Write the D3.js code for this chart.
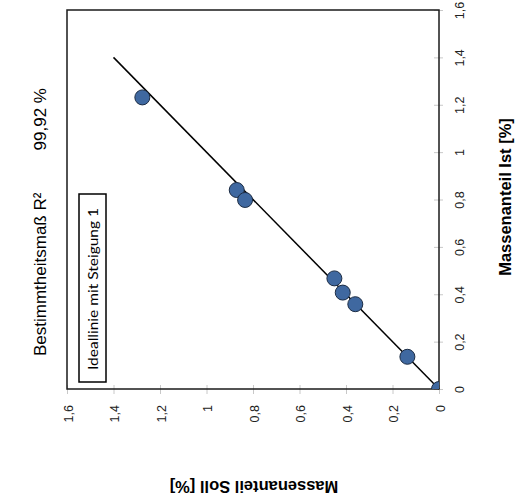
<!DOCTYPE html>
<html>
<head>
<meta charset="utf-8">
<script src="https://cdn.jsdelivr.net/npm/d3@7"></script>
<style>
  body { margin: 0; background: #fff; }
  svg { display: block; }
</style>
</head>
<body>
<svg></svg>
<script>
// Data
const sollValues = [1.276, 0.870, 0.834, 0.450, 0.414, 0.360, 0.136, 0.0]
const istValues  = [1.231, 0.840, 0.798, 0.467, 0.407, 0.358, 0.136, 0.0]
const tickValues = [0, 0.2, 0.4, 0.6, 0.8, 1, 1.2, 1.4, 1.6]
const idealLine  = [[0, 0], [1.4, 1.4]]
const titleText  = 'Bestimmtheitsmaß R²'
const titleValue = '99,92 %'
const legendText = 'Ideallinie mit Steigung 1'
const xTitle = 'Massenanteil Soll [%]'
const yTitle = 'Massenanteil Ist [%]'

const width = 520
const height = 500
const plot = {left: 67, right: 439, top: 10, bottom: 389}

const svg = d3.select('svg')
    .attr('width', width)
    .attr('height', height)

const fmt = (d) => String(d).replace('.', ',')

// chart is drawn rotated: Soll runs right to left along the bottom, Ist upward on the right
const xScale = d3.scaleLinear()
    .domain([0, 1.6])
    .range([plot.right, plot.left])
const yScale = d3.scaleLinear()
    .domain([0, 1.6])
    .range([plot.bottom, plot.top])

svg.append('clipPath')
    .attr('id', 'clip')
    .append('rect')
    .attr('x', plot.left)
    .attr('y', plot.top)
    .attr('width', plot.right - plot.left)
    .attr('height', plot.bottom - plot.top)

// axes
const xAxis = svg.append('g')
    .attr('transform', 'translate(0,' + plot.bottom + ')')
    .call(d3.axisBottom(xScale).tickValues(tickValues).tickFormat(fmt).tickSize(4))
xAxis.select('.domain').remove()
xAxis.selectAll('.tick line').attr('y1', -4).attr('y2', 5).attr('stroke', '#c8c8c8')
xAxis.selectAll('.tick text')
    .attr('transform', 'rotate(-90)')
    .attr('x', -16)
    .attr('y', 0)
    .attr('dy', '0.4em')
    .attr('text-anchor', 'end')
    .attr('fill', '#222')
    .style('font', '12.5px "Liberation Sans", Arial, sans-serif')

const yAxis = svg.append('g')
    .attr('transform', 'translate(' + plot.right + ',0)')
    .call(d3.axisRight(yScale).tickValues(tickValues).tickFormat(fmt).tickSize(4))
yAxis.select('.domain').remove()
yAxis.selectAll('.tick line').attr('x1', -5).attr('x2', 4).attr('stroke', '#c8c8c8')
yAxis.selectAll('.tick text')
    .attr('transform', 'rotate(-90)')
    .attr('x', 0)
    .attr('y', 21)
    .attr('dy', '0.35em')
    .attr('text-anchor', 'middle')
    .attr('fill', '#222')
    .style('font', '12.5px "Liberation Sans", Arial, sans-serif')

// plot frame
svg.append('rect')
    .attr('x', plot.left)
    .attr('y', plot.top)
    .attr('width', plot.right - plot.left)
    .attr('height', plot.bottom - plot.top)
    .attr('fill', 'none')
    .attr('stroke', '#1a1a1a')
    .attr('stroke-width', 1.5)

// ideal line
svg.append('path')
    .datum(idealLine)
    .attr('d', d3.line().x((d) => xScale(d[0])).y((d) => yScale(d[1])))
    .attr('fill', 'none')
    .attr('stroke', '#000')
    .attr('stroke-width', 1.5)

// points
svg.append('g')
    .attr('clip-path', 'url(#clip)')
    .selectAll('circle')
    .data(sollValues)
    .enter()
    .append('circle')
    .attr('cx', (d) => xScale(d))
    .attr('cy', (d, i) => yScale(istValues[i]))
    .attr('r', 7.5)
    .attr('fill', '#3f68a0')
    .attr('stroke', '#1c2c44')
    .attr('stroke-width', 1)

// legend box
svg.append('rect')
    .attr('x', 79)
    .attr('y', 194)
    .attr('width', 27)
    .attr('height', 188)
    .attr('fill', '#fff')
    .attr('stroke', '#000')
    .attr('stroke-width', 1.5)
svg.append('text')
    .attr('transform', 'translate(93,289) rotate(-90)')
    .attr('text-anchor', 'middle')
    .attr('dy', '0.35em')
    .attr('textLength', 162)
    .attr('lengthAdjust', 'spacingAndGlyphs')
    .style('font', '14px Lato, sans-serif')
    .text(legendText)

// title
svg.append('text')
    .attr('transform', 'translate(40,356) rotate(-90)')
    .attr('dy', '0.35em')
    .style('font', '17px "Liberation Sans", Arial, sans-serif')
    .text(titleText)
svg.append('text')
    .attr('transform', 'translate(40,88) rotate(-90)')
    .attr('text-anchor', 'end')
    .attr('dy', '0.35em')
    .style('font', '17px "Liberation Sans", Arial, sans-serif')
    .text(titleValue)

// axis titles
svg.append('text')
    .attr('transform', 'translate(505,197) rotate(-90)')
    .attr('text-anchor', 'middle')
    .attr('dy', '0.35em')
    .style('font', 'bold 16.5px "Liberation Sans", Arial, sans-serif')
    .text(yTitle)
svg.append('text')
    .attr('transform', 'translate(254,487) rotate(180)')
    .attr('text-anchor', 'middle')
    .attr('dy', '0.35em')
    .style('font', 'bold 16.5px "Liberation Sans", Arial, sans-serif')
    .text(xTitle)
</script>
</body>
</html>
